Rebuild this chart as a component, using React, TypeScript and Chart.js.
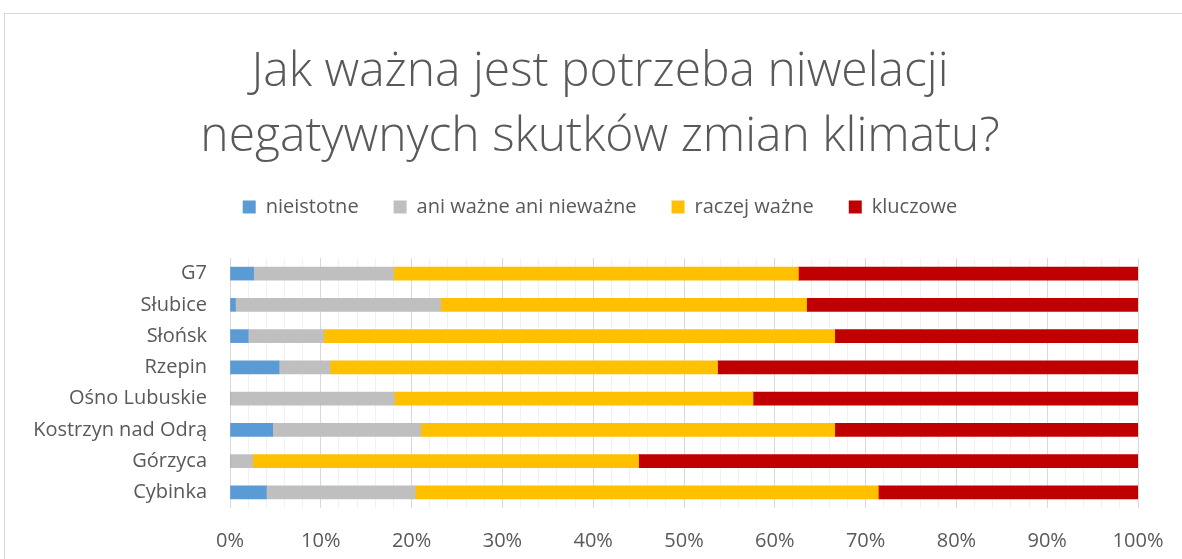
import React, { useEffect, useRef } from "react";
import { Chart, registerables } from "chart.js";

Chart.register(...registerables);

const categories = ["G7", "Słubice", "Słońsk", "Rzepin", "Ośno Lubuskie", "Kostrzyn nad Odrą", "Górzyca", "Cybinka"];
const seriesNames = ["nieistotne", "ani ważne ani nieważne", "raczej ważne", "kluczowe"];
const nieistotne = [2.6, 0.6, 2.0, 5.4, 0, 4.7, 0, 4.0];
const aniWazne = [15.4, 22.6, 8.3, 5.6, 18.1, 16.3, 2.5, 16.4];
const raczejWazne = [44.6, 40.3, 56.3, 42.7, 39.5, 45.6, 42.5, 51.0];
const kluczowe = [37.4, 36.5, 33.4, 46.3, 42.4, 33.4, 55.0, 28.6];
const titleLines = ["Jak ważna jest potrzeba niwelacji", "negatywnych skutków zmian klimatu?"];
const colors = ["#5B9BD5", "#BFBFBF", "#FFC000", "#C00000"];

const FONT = "'Open Sans', Lato, sans-serif";
const TEXT = "#595959";

// moves the legend up a little, closer to the title (Excel-like spacing)
const legendShift = {
  id: "legendShift",
  afterLayout(chart: any) {
    if (chart.legend) {
      chart.legend.top -= 8;
      chart.legend.bottom -= 8;
    }
  },
};

export default function App() {
  const ref = useRef<HTMLCanvasElement>(null);
  useEffect(() => {
    if (!ref.current) return;
    const values = [nieistotne, aniWazne, raczejWazne, kluczowe];
    const chart = new Chart(ref.current, {
      type: "bar",
      data: {
        labels: categories,
        datasets: seriesNames.map((name, i) => ({
          label: name,
          data: values[i],
          backgroundColor: colors[i],
          borderWidth: 0,
          barThickness: 13,
          xAxisID: "x",
          yAxisID: "y",
        })),
      },
      plugins: [legendShift],
      options: {
        indexAxis: "y",
        responsive: false,
        animation: false,
        layout: { padding: { left: 18, right: 0, top: 0, bottom: 0 } },
        plugins: {
          tooltip: { enabled: false },
          title: {
            display: true,
            text: titleLines,
            color: TEXT,
            font: { family: FONT, size: 48, weight: "300", lineHeight: 1.354 },
            padding: { top: 40, bottom: 0 },
          },
          legend: {
            display: true,
            position: "top",
            labels: {
              boxWidth: 13,
              boxHeight: 13,
              padding: 35,
              color: TEXT,
              font: { family: FONT, size: 20 },
            },
          },
        },
        scales: {
          y: {
            stacked: true,
            grid: { display: false, drawTicks: false },
            border: { display: false },
            ticks: {
              padding: 23,
              color: TEXT,
              font: { family: FONT, size: 20 },
            },
            afterFit: (s: any) => {
              s.width = 212;
            },
          },
          x: {
            stacked: true,
            min: 0,
            max: 100,
            grid: {
              drawTicks: false,
              color: (ctx: any) => (ctx.tick && ctx.tick.value % 10 === 0 ? "#D9D9D9" : "#F2F2F2"),
              lineWidth: 1,
            },
            border: { display: false },
            ticks: {
              stepSize: 2,
              autoSkip: false,
              maxRotation: 0,
              padding: 21,
              color: TEXT,
              font: { family: FONT, size: 20 },
              callback: (v: any) => (Number(v) % 10 === 0 ? v + "%" : ""),
            },
            afterFit: (s: any) => {
              s.height = 51;
              s.paddingLeft = 0;
              s.paddingRight = 0;
            },
          },
          xTop: {
            type: "linear",
            position: "top",
            display: true,
            grid: { display: false },
            border: { display: false },
            ticks: { display: false },
            afterFit: (s: any) => {
              s.height = 23;
            },
          },
          yRight: {
            type: "linear",
            position: "right",
            display: true,
            grid: { display: false },
            border: { display: false },
            ticks: { display: false },
            afterFit: (s: any) => {
              s.width = 44;
            },
          },
        },
      },
    } as any);
    return () => chart.destroy();
  }, []);

  return (
    <div style={{ position: "fixed", left: 0, top: 0, width: 1182, height: 559, overflow: "hidden", background: "#fff" }}>
      <div
        style={{
          position: "absolute",
          left: 4,
          top: 13,
          width: 1250,
          height: 650,
          border: "1px solid #D9D9D9",
          boxSizing: "border-box",
        }}
      />
      <canvas ref={ref} width={1182} height={559} style={{ position: "absolute", left: 0, top: 0 }} />
    </div>
  );
}
